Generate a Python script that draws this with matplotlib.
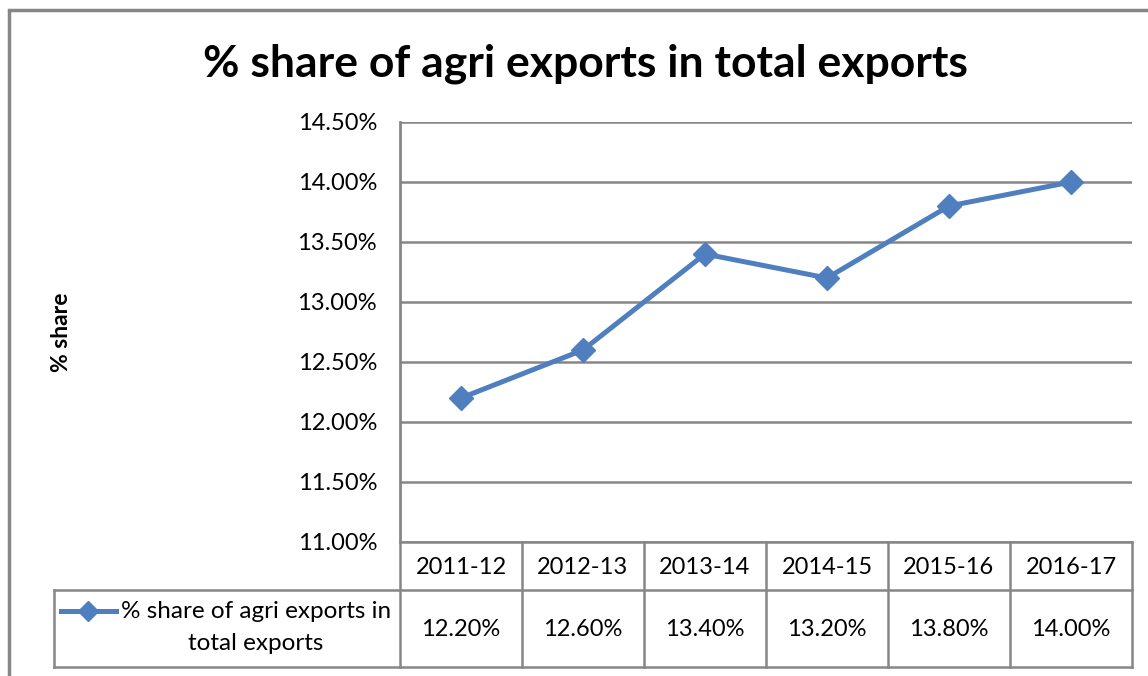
import matplotlib
matplotlib.use("Agg")
import matplotlib.pyplot as plt
from matplotlib.lines import Line2D
from matplotlib.ticker import FuncFormatter, MultipleLocator

# ---- data ----
categories = ["2011-12", "2012-13", "2013-14", "2014-15", "2015-16", "2016-17"]
values = [12.2, 12.6, 13.4, 13.2, 13.8, 14.0]
series_name = "% share of agri exports in total exports"
series_label_lines = ["% share of agri exports in", "total exports"]
title = "% share of agri exports in total exports"
ylabel = "% share"
y_min, y_max, y_step = 11.0, 14.5, 0.5

W, H = 1148, 676
FONT = "Lato"
FS = 17
GRID = "#868686"
LINE = "#4F7FBE"

fig = plt.figure(figsize=(W / 100, H / 100), dpi=100)
fig.patch.set_facecolor("white")

# overlay in pixel coordinates
ov = fig.add_axes([0, 0, 1, 1], zorder=0)
ov.set_xlim(0, W)
ov.set_ylim(H, 0)
ov.axis("off")

# plot area (pixel box)
px0, px1, py_top, py_bot = 400, 1132, 122, 542
ax = fig.add_axes([px0 / W, (H - py_bot) / H, (px1 - px0) / W, (py_bot - py_top) / H], zorder=2)
ax.patch.set_alpha(0)
x = list(range(len(categories)))
ax.plot(x, values, color=LINE, lw=3.6, marker="D", ms=12.5, mfc=LINE, mec=LINE,
        solid_joinstyle="round", clip_on=False, zorder=3)
ax.set_xlim(-0.5, len(categories) - 0.5)
ax.set_ylim(y_min, y_max)
ax.yaxis.set_major_locator(MultipleLocator(y_step))
ax.yaxis.set_major_formatter(FuncFormatter(lambda v, p: f"{v:.2f}%"))
ax.grid(axis="y", color=GRID, lw=1.8)
ax.set_axisbelow(True)
ax.set_xticks([])
for s in ["right", "bottom", "top"]:
    ax.spines[s].set_visible(False)
ax.spines["left"].set_color(GRID)
ax.spines["left"].set_linewidth(2)
ax.tick_params(axis="y", length=0, pad=16.5, labelsize=FS, labelcolor="black")
for lab in ax.get_yticklabels():
    lab.set_fontfamily(FONT)

# outer border
ov.plot([9, 9, W + 5], [H + 5, 10, 10], color=GRID, lw=2.5, solid_joinstyle="miter")

# title and y label
ov.text(585, 64, title, ha="center", va="center", fontsize=32, fontweight="bold",
        family=FONT, color="black")
ov.text(62, 332, ylabel, ha="center", va="center", rotation=90, fontsize=16.5,
        fontweight="bold", family=FONT, color="black")

# data table
n = len(categories)
colw = (px1 - px0) / n
r0, r1, r2 = py_bot, 590, 667
tx0 = 54
kw = dict(color=GRID, lw=1.8, solid_capstyle="projecting")
ov.plot([px0, px1], [r0, r0], **kw)
ov.plot([tx0, px1], [r1, r1], **kw)
ov.plot([tx0, px1], [r2, r2], **kw)
ov.plot([tx0, tx0], [r1, r2], **kw)
for i in range(n + 1):
    xx = px0 + i * colw
    ov.plot([xx, xx], [r0, r2], **kw)
for i, (c, v) in enumerate(zip(categories, values)):
    cx = px0 + (i + 0.5) * colw
    ov.text(cx, (r0 + r1) / 2 + 1, c, ha="center", va="center", fontsize=FS, family=FONT)
    ov.text(cx, (r1 + r2) / 2 + 1, f"{v:.2f}%", ha="center", va="center", fontsize=FS, family=FONT)
# legend key + label
ov.add_line(Line2D([61, 116], [611, 611], color=LINE, lw=3.6, zorder=3))
ov.plot([88], [611], marker="D", ms=10.5, color=LINE, zorder=4)
ov.text(256, 611, series_label_lines[0], ha="center", va="center", fontsize=17.5, family=FONT)
ov.text(256, 643, series_label_lines[1], ha="center", va="center", fontsize=17.5, family=FONT)

fig.savefig("out.png", dpi=100, facecolor="white")
